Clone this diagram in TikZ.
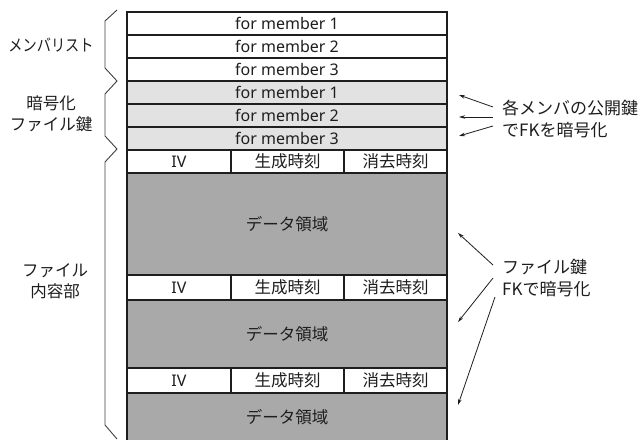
\documentclass[tikz,border=0pt]{standalone}
\usepackage{fontspec}
\setmainfont{Noto Sans CJK JP}
\newfontfamily\latinfont{Noto Sans}
\usetikzlibrary{arrows.meta}
\definecolor{lightrow}{HTML}{E2E2E2}
\definecolor{darkrow}{HTML}{A9A9A9}
\definecolor{ink}{HTML}{1E1E1E}
\tikzset{
  cell/.style={draw=ink, line width=1.3pt, anchor=north west, inner sep=0pt, outer sep=0pt,
    text=ink, font=\fontsize{16.5}{18}\selectfont},
  latcell/.style={cell, font=\latinfont\fontsize{16}{18}\selectfont},
  lbl/.style={text=ink, font=\fontsize{16.5}{21}\selectfont, align=center, inner sep=0pt},
  note/.style={text=ink, font=\fontsize{17}{21}\selectfont, anchor=west, inner sep=0pt},
  brace/.style={draw=ink!85, line width=0.9pt, line join=miter},
  pointer/.style={draw=ink, line width=0.8pt, -{Stealth[length=6pt,width=3.5pt]}}
}
\begin{document}
\begin{tikzpicture}[x=1pt,y=-1pt]
\useasboundingbox (0,0) rectangle (639,439);
% member rows
\node[latcell, fill=white, minimum width=320pt, minimum height=23pt] (m1) at (127,12) {for member 1};
\node[latcell, fill=white, minimum width=320pt, minimum height=23pt] (m2) at (127,35) {for member 2};
\node[latcell, fill=white, minimum width=320pt, minimum height=23pt] (m3) at (127,58) {for member 3};
\node[latcell, fill=lightrow, minimum width=320pt, minimum height=23pt] (k1) at (127,81) {for member 1};
\node[latcell, fill=lightrow, minimum width=320pt, minimum height=23pt] (k2) at (127,104) {for member 2};
\node[latcell, fill=lightrow, minimum width=320pt, minimum height=23pt] (k3) at (127,127) {for member 3};
% block 1
\node[latcell, fill=white, minimum width=104pt, minimum height=23pt] (iv1) at (127,150) {IV};
\node[cell, fill=white, minimum width=113pt, minimum height=23pt] (ct1) at (231,150) {生成時刻};
\node[cell, fill=white, minimum width=103pt, minimum height=23pt] (dt1) at (344,150) {消去時刻};
\node[cell, fill=darkrow, minimum width=320pt, minimum height=102pt] (d1) at (127,173) {データ領域};
% block 2
\node[latcell, fill=white, minimum width=104pt, minimum height=25pt] (iv2) at (127,275) {IV};
\node[cell, fill=white, minimum width=113pt, minimum height=25pt] (ct2) at (231,275) {生成時刻};
\node[cell, fill=white, minimum width=103pt, minimum height=25pt] (dt2) at (344,275) {消去時刻};
\node[cell, fill=darkrow, minimum width=320pt, minimum height=68pt] (d2) at (127,300) {データ領域};
% block 3
\node[latcell, fill=white, minimum width=104pt, minimum height=25pt] (iv3) at (127,368) {IV};
\node[cell, fill=white, minimum width=113pt, minimum height=25pt] (ct3) at (231,368) {生成時刻};
\node[cell, fill=white, minimum width=103pt, minimum height=25pt] (dt3) at (344,368) {消去時刻};
\node[cell, fill=darkrow, minimum width=320pt, minimum height=56pt] (d3) at (127,393) {};
\node[text=ink, font=\fontsize{16.5}{18}\selectfont, inner sep=0pt] (d3t) at (287,417) {データ領域};
% braces
\draw[brace] (117,10) -- (105,21) -- (105,68) -- (117,81) -- (105,94) -- (105,136) -- (117,149) -- (105,162) -- (105,425) -- (117,439);
% left labels
\node[lbl] (lab1) at (51,45) {\scalebox{0.86}[1]{メンバリスト}};
\node[lbl] (lab2) at (51,114) {暗号化\\ファイル鍵};
\node[lbl] (lab3) at (55,281) {ファイル\\内容部};
% right notes
\node[note] (n1a) at (502,108) {各メンバの公開鍵};
\node[note] (n1b) at (502,130) {でFKを暗号化};
\node[note] (n2a) at (502,267) {ファイル鍵};
\node[note] (n2b) at (502,289) {FKで暗号化};
% arrows
\coordinate (t1) at (459,95);
\coordinate (t2) at (459,117);
\coordinate (t3) at (459,136);
\draw[pointer] (n1a.west) ++(-9,-1) -- (t1);
\draw[pointer] (n1a.west) ++(-9,9) -- (t2);
\draw[pointer] (n1b.west) ++(-9,-4) -- (t3);
\coordinate (u1) at (458,233);
\coordinate (u2) at (458,322);
\coordinate (u3) at (458,405);
\draw[pointer] (n2a.west) ++(-9,-2) -- (u1);
\draw[pointer] (n2a.west) ++(-9,11) -- (u2);
\draw[pointer] (n2b.west) ++(-7,8) -- (u3);
\end{tikzpicture}
\end{document}
